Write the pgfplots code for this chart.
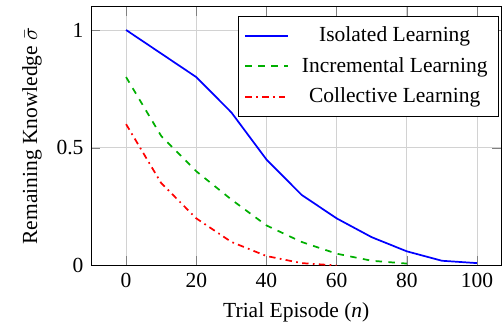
\documentclass[border=0pt]{standalone}
\usepackage{fontspec}
\setmainfont{Liberation Serif}
\usepackage{pgfplots}
\pgfplotsset{compat=1.18}
\begin{document}
\begin{tikzpicture}
\begin{axis}[
  name=main,
  scale only axis,
  width=191pt, height=120.5pt,
  xmin=-10, xmax=107, ymin=0, ymax=1.1,
  xtick={0,20,40,60,80,100},
  xticklabels={0,20,40,60,80,100},
  ytick={0,0.5,1},
  yticklabels={0,0.5,1},
  grid=major,
  major grid style={gray!35, line width=0.4pt},
  tick style={black!50},
  tick label style={font=\rmfamily},
  xlabel={Trial Episode (\textit{n})},
  ylabel={Remaining Knowledge $\bar{\sigma}$},
  legend cell align=center,
  legend image code/.code={\draw[#1] plot coordinates {(0cm,0cm) (0.7cm,0cm)};},
  legend style={at={(rel axis cs:0.993,0.965)}, anchor=north east, draw=black, fill=white, font=\normalsize, row sep=1.8pt, inner sep=3pt,
    /tikz/every odd column/.append style={column sep=4pt}},
]
\addplot[blue, thick] coordinates {
(0,1) (10,0.9) (20,0.8) (30,0.65) (40,0.45) (50,0.3) (60,0.2) (70,0.12) (80,0.06) (90,0.02) (100,0.01)};
\addlegendentry{Isolated Learning}
\addplot[color={rgb,255:red,0;green,175;blue,0}, thick, dashed] coordinates {
(0,0.8) (10,0.55) (20,0.4) (30,0.28) (40,0.17) (50,0.1) (60,0.05) (70,0.02) (80,0.008)};
\addlegendentry{Incremental Learning}
\addplot[color=red, thick, dash dot] coordinates {
(0,0.6) (10,0.35) (20,0.2) (30,0.1) (40,0.04) (50,0.01) (60,0.0)};
\addlegendentry{Collective Learning}
\end{axis}
\path ([xshift=-7pt]current bounding box.west) ([yshift=3pt]main.north);
\end{tikzpicture}
\end{document}
